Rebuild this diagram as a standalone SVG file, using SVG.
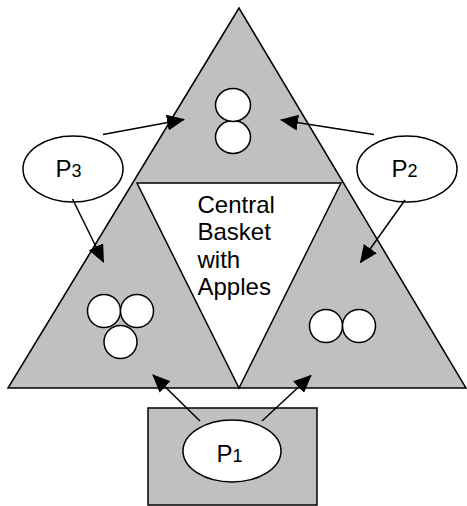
<svg xmlns="http://www.w3.org/2000/svg" width="467" height="506" viewBox="0 0 467 506">
  <style>
    .gray { fill: #c0c0c0; stroke: #000; stroke-width: 1.5; }
    .white { fill: #fff; stroke: #000; stroke-width: 1.5; }
    .apple { fill: #fff; stroke: #000; stroke-width: 1.5; }
    .label { font-family: "Liberation Sans", Arial, sans-serif; font-size: 24px; fill: #000; }
    .sub { font-size: 18px; }
    .conn { stroke: #000; stroke-width: 1.5; fill: none; marker-end: url(#arrow); }
  </style>
  <defs>
    <marker id="arrow" viewBox="0 0 18 16" refX="17" refY="8" markerWidth="18" markerHeight="16" markerUnits="userSpaceOnUse" orient="auto">
      <path d="M0,0 L18,8 L0,16 z" fill="#000"/>
    </marker>
  </defs>

  <!-- basket: outer triangle split by the central basket -->
  <g id="basket">
    <polygon class="gray" points="239,8 8,388 466,388"/>
    <polygon class="white" points="137,183 341,183 239,388"/>
    <text class="label" x="197.5" y="213">Central</text>
    <text class="label" x="197.5" y="240">Basket</text>
    <text class="label" x="197.5" y="268">with</text>
    <text class="label" x="197.5" y="295">Apples</text>
  </g>

  <!-- apples in each section -->
  <g id="apples-top">
    <ellipse class="apple" cx="233" cy="137" rx="17.5" ry="16.5"/>
    <ellipse class="apple" cx="233" cy="105" rx="17.5" ry="16.5"/>
  </g>
  <g id="apples-left">
    <circle class="apple" cx="104" cy="311" r="16.5"/>
    <circle class="apple" cx="137" cy="311" r="16.5"/>
    <circle class="apple" cx="120.5" cy="342" r="16.5"/>
  </g>
  <g id="apples-right">
    <circle class="apple" cx="326" cy="326" r="16.5"/>
    <circle class="apple" cx="359" cy="326" r="16.5"/>
  </g>

  <!-- processes -->
  <g id="p3">
    <ellipse class="white" cx="73" cy="169" rx="50" ry="33"/>
    <text class="label" x="55.5" y="177">P<tspan class="sub">3</tspan></text>
  </g>
  <g id="p2">
    <ellipse class="white" cx="407" cy="169" rx="50" ry="33"/>
    <text class="label" x="391.5" y="177">P<tspan class="sub">2</tspan></text>
  </g>
  <g id="p1">
    <rect class="gray" x="148" y="408" width="169" height="97"/>
    <ellipse class="white" cx="232" cy="451" rx="49" ry="31"/>
    <text class="label" x="216.5" y="462">P<tspan class="sub">1</tspan></text>
  </g>

  <!-- connectors -->
  <g id="connectors">
    <line class="conn" x1="103" y1="134.5" x2="184" y2="119.5"/>
    <line class="conn" x1="374" y1="134.5" x2="281" y2="120"/>
    <line class="conn" x1="72.5" y1="199" x2="103.5" y2="262"/>
    <line class="conn" x1="405" y1="200" x2="360.5" y2="262.5"/>
    <line class="conn" x1="200" y1="421" x2="153" y2="375"/>
    <line class="conn" x1="262" y1="421" x2="311" y2="375.5"/>
  </g>
</svg>
